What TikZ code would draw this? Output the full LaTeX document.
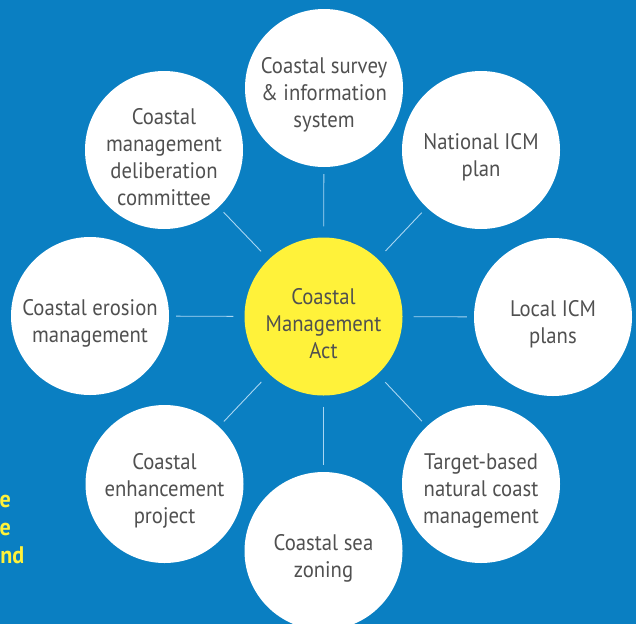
\documentclass[tikz,border=0pt]{standalone}
\usepackage{fontspec}
\setmainfont{PT Sans}[FakeStretch=0.92]
\definecolor{bgblue}{HTML}{0A7FC2}
\definecolor{hubyellow}{HTML}{FFF23A}
\definecolor{txtgray}{HTML}{505050}
\definecolor{linkblue}{HTML}{A9D6F2}
\begin{document}
\begin{tikzpicture}[x=1pt,y=-1pt,
  bubble/.style={circle,fill=white,minimum size=158pt,inner sep=0pt},
  hub/.style={bubble,fill=hubyellow},
  lab/.style={align=center,inner sep=0pt,yshift=-7pt,text=txtgray,
    font=\fontsize{22.5}{27}\selectfont},
  link/.style={draw=linkblue,line width=0.9pt,shorten <=11pt,shorten >=7pt},
  frag/.style={anchor=base east,text=hubyellow,inner sep=0pt,font=\fontsize{24}{28}\selectfont\bfseries}]
\fill[bgblue] (0,0) rectangle (636,624);
\useasboundingbox (0,0) rectangle (636,624);
\node[hub,label={[lab]center:{Coastal\\Management\\Act}}] (c) at (323.5,316.5) {};
\node[bubble,label={[lab]center:{Coastal survey\\\& information\\system}}] (n) at (324,88) {};
\node[bubble,label={[lab]center:{National ICM\\plan}}] (ne) at (481,150) {};
\node[bubble,label={[lab]center:{Local ICM\\plans}}] (e) at (553,317) {};
\node[bubble,label={[lab]center:{Target-based\\natural coast\\management}}] (se) at (481,484) {};
\node[bubble,label={[lab]center:{Coastal sea\\zoning}}] (s) at (323.5,551) {};
\node[bubble,label={[lab]center:{Coastal\\enhancement\\project}}] (sw) at (164.5,484) {};
\node[bubble,label={[lab]center:{Coastal erosion\\management}}] (w) at (90,316) {};
\node[bubble,label={[lab]center:{Coastal\\management\\deliberation\\committee}}] (nw) at (164,150) {};
\foreach \t in {n,ne,e,se,s,sw,w,nw} \draw[link] (c) -- (\t);
\node[frag] (f1) at (11,507) {e};
\node[frag] (f2) at (11,535) {e};
\node[frag] (f3) at (24.5,563) {nd};
\end{tikzpicture}
\end{document}
